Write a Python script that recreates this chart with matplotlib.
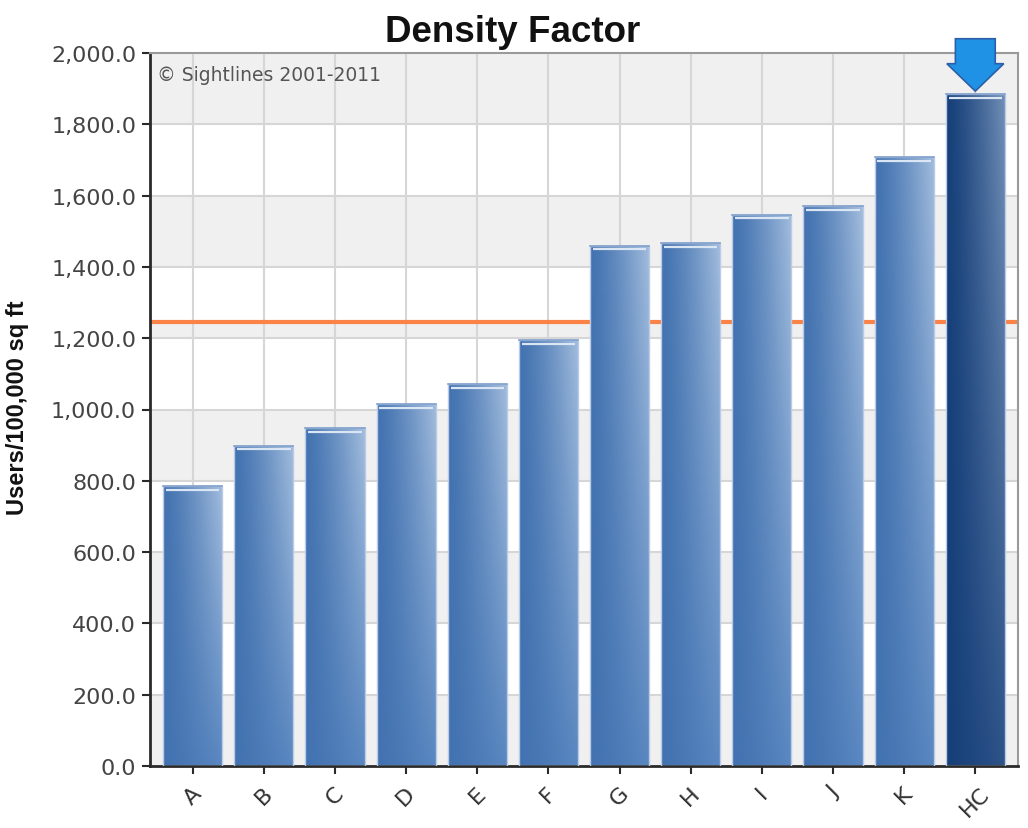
import numpy as np
import matplotlib
matplotlib.use("Agg")
import matplotlib.pyplot as plt
from matplotlib.colors import to_rgb
from matplotlib.patches import Polygon
from matplotlib.ticker import FuncFormatter

# ---------------- data ----------------
categories = ["A", "B", "C", "D", "E", "F", "G", "H", "I", "J", "K", "HC"]
values = [785, 898, 948, 1015, 1071, 1195, 1459, 1467, 1546, 1571, 1708, 1885]
mean_value = 1245
highlight = "HC"
y_ticks = [0, 200, 400, 600, 800, 1000, 1200, 1400, 1600, 1800, 2000]
title = "Density Factor"
ylabel = "Users/100,000 sq ft"
credit = "\u00a9 Sightlines 2001-2011"

# ---------------- styles ----------------
W, H = 1028, 829
fig = plt.figure(figsize=(W / 100, H / 100), dpi=100)
ax = fig.add_axes([150 / W, 62 / H, 868 / W, 713 / H])
x = np.arange(len(categories))
ax.set_xlim(-0.6, len(categories) - 0.4)
ax.set_ylim(y_ticks[0], y_ticks[-1])
ax.set_facecolor("white")

# alternating background bands (mean line acts as an extra boundary)
bounds = sorted(set(y_ticks + [mean_value]))
for i in range(len(bounds) - 1):
    if i % 2 == 0:
        ax.axhspan(bounds[i], bounds[i + 1], color="#f0f0f0", zorder=0, lw=0)

# grid
for t in y_ticks[1:-1]:
    ax.axhline(t, color="#d6d6d6", lw=1.5, zorder=0.5)
for xi in x:
    ax.axvline(xi, color="#d6d6d6", lw=1.5, zorder=0.5)

# mean line
ax.axhline(mean_value, color="#fb8348", lw=3, zorder=1)

# bars with gradient
bar_w = 0.83
bars = ax.bar(x, values, width=bar_w, facecolor="none",
              edgecolor="#b9cbe6", lw=1.0, zorder=3)


def gradient(left, rtop, rbot, n=120):
    L = np.array(to_rgb(left))
    RT = np.array(to_rgb(rtop))
    RB = np.array(to_rgb(rbot))
    t = np.linspace(0, 1, n)[None, :, None]
    s = np.linspace(1, 0, n)[:, None, None]  # row 0 = top
    R = RB * (1 - s) + RT * s
    tt = t ** 1.3
    return L * (1 - tt) + R * tt


for cat, b, v in zip(categories, bars, values):
    if cat == highlight:
        img = gradient("#163f79", "#7391b8", "#2f5489")
    else:
        img = gradient("#4272b0", "#a3bddd", "#5b88c1")
    x0 = b.get_x()
    x1 = x0 + b.get_width()
    im = ax.imshow(img, extent=[x0, x1, 0, v], aspect="auto",
                   zorder=2, interpolation="bilinear")
    im.set_clip_path(b)
    # top highlight stripe
    ax.plot([x0 + 0.04, x1 - 0.04], [v - 10, v - 10],
            color="#dbe6f4", lw=1.6, zorder=4, solid_capstyle="butt")
    ax.plot([x0, x1], [v, v], color="#7f9fcb", lw=1.2, zorder=4)

# arrow over the highlighted bar
hi = categories.index(highlight)
hv = values[hi]
sw, hw = 0.28, 0.40
shaft_top, head_base = hv + 155, hv + 85
arrow = Polygon([[hi - sw, shaft_top], [hi + sw, shaft_top], [hi + sw, head_base],
                 [hi + hw, head_base], [hi, hv + 8], [hi - hw, head_base],
                 [hi - sw, head_base]], closed=True, facecolor="#1f92e6",
                edgecolor="#2c5fa8", lw=1.2, zorder=6, clip_on=False)
ax.add_patch(arrow)

# spines
for s in ["top", "right"]:
    ax.spines[s].set_color("#9a9a9a")
    ax.spines[s].set_linewidth(1.5)
for s in ["left", "bottom"]:
    ax.spines[s].set_color("#2a2a2a")
    ax.spines[s].set_linewidth(2)

# ticks
ax.set_yticks(y_ticks)
ax.yaxis.set_major_formatter(FuncFormatter(lambda v, p: f"{v:,.1f}"))
ax.set_xticks(x)
ax.set_xticklabels(categories, rotation=45, ha="center", va="top")
ax.tick_params(axis="y", length=6, width=1.5, color="#2a2a2a",
               labelsize=16, labelcolor="#444444", pad=4)
ax.tick_params(axis="x", length=6, width=1.5, color="#2a2a2a",
               labelsize=16, labelcolor="#333333", pad=6)

# texts
fig.text(0.499, 1 - 32 / H, title, ha="center", va="center",
         fontsize=26.5, fontweight="bold", family="Liberation Sans", color="#111111")
fig.text(18 / W, 1 - 408 / H, ylabel, ha="center", va="center", rotation=90,
         fontsize=17, fontweight="bold",
         family=["Liberation Sans Narrow", "Liberation Sans"], color="#111111")
ax.text(0.008, 0.9705, credit, transform=ax.transAxes, ha="left", va="center",
        fontsize=13.5, color="#555555", zorder=7)

fig.savefig("out.png", dpi=100)
